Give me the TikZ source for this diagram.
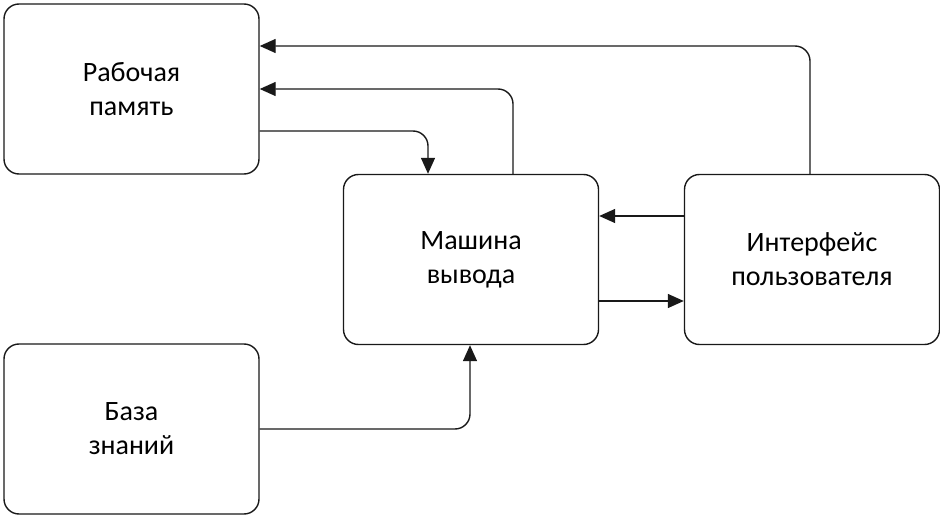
\documentclass[tikz,border=0pt]{standalone}
\usepackage{fontspec}
\setmainfont{Carlito}
\usetikzlibrary{arrows.meta}
\begin{document}
\begin{tikzpicture}[x=1pt,y=-1pt,
  box/.style={draw=black!90,line width=1.4pt,rounded corners=15pt,minimum width=255pt,minimum height=170pt,align=center,font=\fontsize{28}{34}\selectfont,inner sep=0pt},
  conn/.style={draw=black!90,line width=1.4pt,rounded corners=15pt,-{Triangle[length=16pt,width=14pt]}}]
\useasboundingbox (0,0) rectangle (940,516);
\node[box] (rp) at (131.5,89) {Рабочая\\память};
\node[box] (mv) at (471,259.5) {Машина\\вывода};
\node[box] (iu) at (812,259.5) {Интерфейс\\пользователя};
\node[box] (bz) at (131.5,429) {База\\знаний};
\draw[conn] (iu.north -| 810,0) |- (rp.east |- 0,46);
\draw[conn] (mv.north -| 513,0) |- (rp.east |- 0,89);
\draw[conn] (rp.east |- 0,131) -| (mv.north -| 428,0);
\draw[conn] (iu.west |- 0,216) -- (mv.east |- 0,216);
\draw[conn] (mv.east |- 0,301) -- (iu.west |- 0,301);
\draw[conn] (bz.east |- 0,429) -| (mv.south -| 470,0);
\end{tikzpicture}
\end{document}
